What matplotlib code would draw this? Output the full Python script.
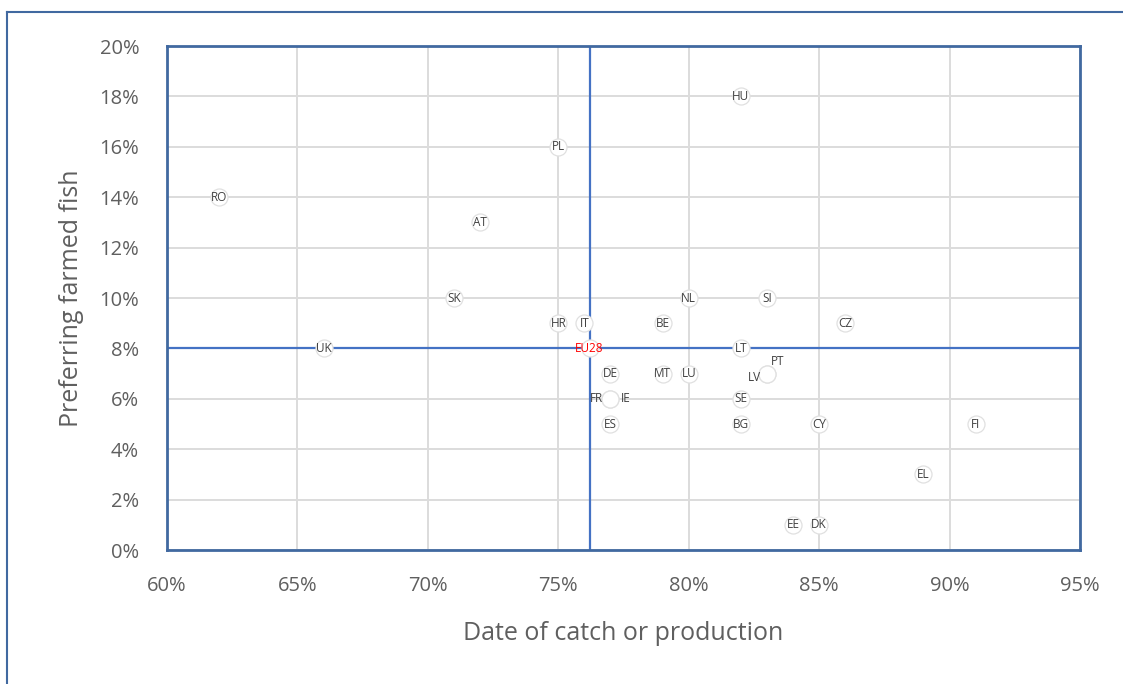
import matplotlib
matplotlib.use("Agg")
import matplotlib.pyplot as plt
from matplotlib.lines import Line2D
from matplotlib.ticker import FuncFormatter, MultipleLocator

plt.rcParams['font.family'] = ['Open Sans', 'DejaVu Sans']

countries = ["RO", "UK", "SK", "AT", "PL", "HR", "IT", "HU", "NL", "SI", "BE", "CZ",
             "LT", "LV", "PT", "DE", "MT", "LU", "FR", "IE", "ES", "SE", "BG", "CY",
             "FI", "EL", "EE", "DK"]
date_catch = [62, 66, 71, 72, 75, 75, 76, 82, 80, 83, 79, 86,
              82, 83, 83, 77, 79, 80, 77, 77, 77, 82, 82, 85,
              91, 89, 84, 85]
farmed = [14, 8, 10, 13, 16, 9, 9, 18, 10, 10, 9, 9,
          8, 7, 7, 7, 7, 7, 6, 6, 5, 6, 5, 5,
          5, 3, 1, 1]
eu_label = "EU28"
eu_x = 76.2
eu_y = 8

label_offsets = {"LV": (-9, -3), "PT": (8, 9), "FR": (-10, 0), "IE": (11, 0)}

fig = plt.figure(figsize=(11.23, 6.84), dpi=100)
ax = fig.add_axes([0.1487, 0.1959, 0.813, 0.7368])

blue = "#4472C4"
frame_blue = "#4169A0"

ax.grid(True, color="#DCDCDC", linewidth=1.4)
ax.set_axisbelow(True)
ax.set_xlim(60, 95)
ax.set_ylim(0, 20)
ax.xaxis.set_major_locator(MultipleLocator(5))
ax.yaxis.set_major_locator(MultipleLocator(2))
ax.xaxis.set_major_formatter(FuncFormatter(lambda v, p: f"{v:.0f}%"))
ax.yaxis.set_major_formatter(FuncFormatter(lambda v, p: f"{v:.0f}%"))
ax.tick_params(axis="both", length=0, labelsize=14.5, labelcolor="#5F5F5F")
ax.tick_params(axis="x", pad=19)
ax.tick_params(axis="y", pad=20)

for s in ax.spines.values():
    s.set_color(frame_blue)
    s.set_linewidth(2)

ax.axvline(eu_x, color=blue, linewidth=1.6, zorder=2)
ax.axhline(eu_y, color=blue, linewidth=1.6, zorder=2)

ax.scatter(date_catch + [eu_x], farmed + [eu_y], s=150, facecolor="white",
           edgecolor="#E0E0E0", linewidth=0.9, zorder=3)

for c, x, y in zip(countries, date_catch, farmed):
    dx, dy = label_offsets.get(c, (0, 0))
    ax.annotate(c, (x, y), xytext=(dx, dy), textcoords="offset points",
                ha="center", va="center", fontsize=8.5, color="#404040", zorder=4)
ax.annotate(eu_label, (eu_x, eu_y), ha="center", va="center", fontsize=8.5,
            color="#FF0000", zorder=4)

ax.set_xlabel("Date of catch or production", fontsize=18, color="#5F5F5F", labelpad=18)
ax.set_ylabel("Preferring farmed fish", fontsize=18, color="#5F5F5F", labelpad=11)

fig.add_artist(Line2D([0.0062, 0.0062], [0.0, 0.982], transform=fig.transFigure,
                      color=frame_blue, linewidth=1.5))
fig.add_artist(Line2D([0.0062, 1.0], [0.982, 0.982], transform=fig.transFigure,
                      color=frame_blue, linewidth=1.5))

fig.savefig("out.png", dpi=100)
